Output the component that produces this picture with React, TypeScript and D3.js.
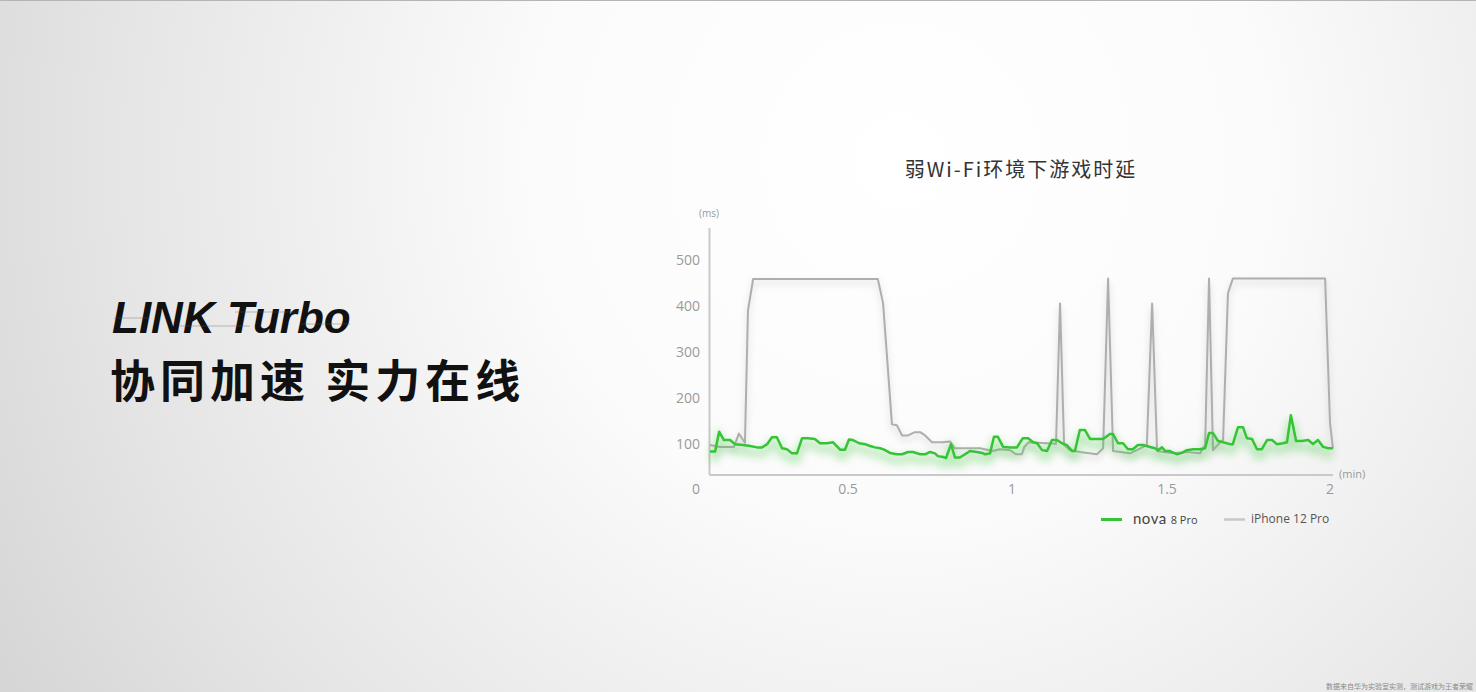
import React from "react";
import * as d3 from "d3";

const W = 1476;
const H = 692;

// x ticks (minutes) and y ticks (ms)
const xTicks = [0, 0.5, 1, 1.5, 2];
const xTickLabels = ["0", "0.5", "1", "1.5", "2"];
const yTicks = [100, 200, 300, 400, 500];

// nova 8 Pro latency: [minute, ms]
const novaT = [0.046,0.063,0.076,0.092,0.112,0.128,0.155,0.178,0.201,0.217,0.234,0.25,0.266,0.283,0.299,0.316,0.332,0.349,0.368,0.391,0.408,0.431,0.451,0.474,0.49,0.503,0.515,0.534,0.552,0.567,0.582,0.598,0.61,0.628,0.649,0.665,0.683,0.698,0.72,0.735,0.75,0.765,0.774,0.79,0.799,0.814,0.826,0.841,0.857,0.872,0.893,0.909,0.918,0.933,0.945,0.957,0.973,0.994,1.016,1.035,1.052,1.068,1.081,1.097,1.113,1.129,1.145,1.161,1.177,1.194,1.203,1.219,1.235,1.252,1.274,1.294,1.316,1.326,1.342,1.358,1.374,1.39,1.406,1.423,1.445,1.461,1.471,1.484,1.494,1.509,1.531,1.546,1.561,1.58,1.601,1.617,1.629,1.641,1.656,1.672,1.693,1.702,1.718,1.733,1.745,1.761,1.776,1.791,1.807,1.822,1.837,1.856,1.868,1.88,1.896,1.914,1.933,1.948,1.963,1.979,1.994,2.009];
const novaV = [83,83,126,108,108,99,97,95,92,92,99,114,114,90,88,79,79,112,112,110,101,101,103,87,87,109,108,101,99,95,92,90,87,80,77,77,82,82,77,77,82,79,73,71,69,99,70,70,77,84,82,80,77,79,115,115,93,92,92,112,112,103,101,86,84,108,108,101,97,84,84,130,130,110,110,110,121,121,101,101,88,88,97,97,93,90,86,92,84,84,77,80,86,88,88,90,123,123,106,103,99,99,136,136,112,110,88,88,108,108,99,101,103,162,106,106,108,99,108,93,90,90];

// iPhone 12 Pro latency: [minute, ms]
const iphoneT = [0.046,0.079,0.125,0.141,0.155,0.161,0.171,0.188,0.591,0.607,0.634,0.649,0.665,0.683,0.704,0.72,0.735,0.756,0.787,0.811,0.826,0.902,0.942,0.963,0.994,1.013,1.032,1.04,1.053,1.142,1.155,1.168,1.187,1.219,1.274,1.294,1.31,1.326,1.381,1.435,1.452,1.468,1.518,1.561,1.601,1.617,1.629,1.641,1.663,1.672,1.687,1.702,1.985,2.0,2.009];
const iphoneV = [97,93,93,122,108,102,390,458,458,405,142,140,118,118,125,125,118,103,103,105,90,90,84,88,86,77,77,93,103,100,405,97,86,82,77,90,459,84,79,97,405,84,79,82,79,97,459,86,103,108,427,459,459,145,90];

const GREEN = "#35c435";
const GRAY = "#aeaeae";

export default function App() {
  const x = d3.scaleLinear().domain(xTicks).range([696, 848, 1012, 1167, 1330]);
  const y = d3.scaleLinear().domain([0, 500]).range([489.7, 259.7]);
  const axisX0 = 709.5;
  const axisY = 475;

  const line = d3
    .line<[number, number]>()
    .x((d) => x(d[0]))
    .y((d) => y(d[1]))
    .curve(d3.curveLinear);

  const nova: [number, number][] = novaT.map((t, i) => [t, novaV[i]]);
  const iphone: [number, number][] = iphoneT.map((t, i) => [t, iphoneV[i]]);
  const novaPath = line(nova) || "";
  const iphonePath = line(iphone) || "";

  const cjk = '"Noto Sans CJK SC", "Noto Sans", sans-serif';
  const sans = '"Open Sans", "Noto Sans", sans-serif';

  return (
    <svg
      width={W}
      height={H}
      viewBox={`0 0 ${W} ${H}`}
      style={{ position: "absolute", left: 0, top: 0, display: "block" }}
    >
      <defs>
        <radialGradient id="bg" cx="900" cy="160" r="1050" gradientUnits="userSpaceOnUse">
          <stop offset="0" stopColor="#ffffff" />
          <stop offset="0.35" stopColor="#fbfbfb" />
          <stop offset="0.75" stopColor="#e5e5e5" />
          <stop offset="1" stopColor="#d5d5d5" />
        </radialGradient>
        <filter id="glow" x="-5%" y="-50%" width="110%" height="200%">
          <feGaussianBlur stdDeviation="4" />
        </filter>
        <filter id="gshadow" x="-5%" y="-20%" width="110%" height="140%">
          <feGaussianBlur stdDeviation="3" />
        </filter>
      </defs>
      <rect x={0} y={0} width={W} height={H} fill="url(#bg)" />
      <line x1={0} x2={W} y1={0.5} y2={0.5} stroke="#b5b5b5" strokeWidth={1} />

      {/* Left headline */}
      <text
        x={112}
        y={333}
        fontFamily='"Liberation Sans", Arial, sans-serif'
        fontWeight={700}
        fontStyle="italic"
        fontSize={44}
        fill="#111"
      >
        LINK Turbo
      </text>
      {[
        [114, 318, 150],
        [180, 326, 250],
        [235, 312, 300],
        [300, 324, 350],
      ].map((s, i) => (
        <line key={i} x1={s[0]} x2={s[2]} y1={s[1]} y2={s[1]} stroke="#555" strokeWidth={0.6} opacity={0.6} />
      ))}
      <text
        x={110}
        y={398}
        fontFamily={cjk}
        fontWeight={700}
        fontSize={45}
        letterSpacing={5}
        fill="#111"
      >
        协同加速 实力在线
      </text>

      {/* Title */}
      <text
        x={1021}
        y={177}
        textAnchor="middle"
        fontFamily={cjk}
        fontSize={20}
        letterSpacing={2}
        fill="#333"
      >
        弱Wi-Fi环境下游戏时延
      </text>

      {/* Axes */}
      <line x1={axisX0} x2={axisX0} y1={228} y2={axisY} stroke="#c9c9c9" strokeWidth={2} />
      <line x1={axisX0} x2={1333} y1={axisY} y2={axisY} stroke="#c9c9c9" strokeWidth={2} />
      <text x={709} y={217} textAnchor="middle" fontFamily={sans} fontSize={10} fill="#999">
        (ms)
      </text>
      <text x={1339} y={478} fontFamily={sans} fontSize={11} fill="#999">
        (min)
      </text>
      {yTicks.map((v) => (
        <text
          key={v}
          x={700}
          y={y(v) + 5}
          textAnchor="end"
          fontFamily={sans}
          fontSize={14}
          fill="#9a9a9a"
        >
          {v}
        </text>
      ))}
      {xTicks.map((v, i) => (
        <text
          key={v}
          x={x(v)}
          y={494}
          textAnchor="middle"
          fontFamily={sans}
          fontSize={14}
          fill="#9a9a9a"
        >
          {xTickLabels[i]}
        </text>
      ))}

      {/* iPhone line */}
      <path d={iphonePath} fill="none" stroke="#999" strokeWidth={5} opacity={0.18} filter="url(#gshadow)" transform="translate(0,4)" />
      <path d={iphonePath} fill="none" stroke={GRAY} strokeWidth={2} strokeLinejoin="round" />

      {/* nova line */}
      <path d={novaPath} fill="none" stroke={GREEN} strokeWidth={8} opacity={0.32} filter="url(#glow)" transform="translate(0,6)" />
      <path d={novaPath} fill="none" stroke={GREEN} strokeWidth={2.5} strokeLinejoin="round" />

      {/* Legend */}
      <line x1={1101} x2={1122} y1={519.5} y2={519.5} stroke={GREEN} strokeWidth={3} />
      <text x={1133} y={524} fontFamily={sans} fill="#444">
        <tspan fontSize={15} fontFamily='"Lato", sans-serif' letterSpacing={0.5}>nova</tspan>
        <tspan fontSize={11} dx={4}>8 Pro</tspan>
      </text>
      <line x1={1224} x2={1245} y1={519.5} y2={519.5} stroke="#c8c8c8" strokeWidth={2.5} />
      <text x={1251} y={523} fontFamily={sans} fontSize={12} fill="#555">
        iPhone 12 Pro
      </text>

      {/* Footnote */}
      <text x={1326} y={689} fontFamily={cjk} fontSize={7} fill="#8a8a8a">
        数据来自华为实验室实测，测试游戏为王者荣耀
      </text>
    </svg>
  );
}
